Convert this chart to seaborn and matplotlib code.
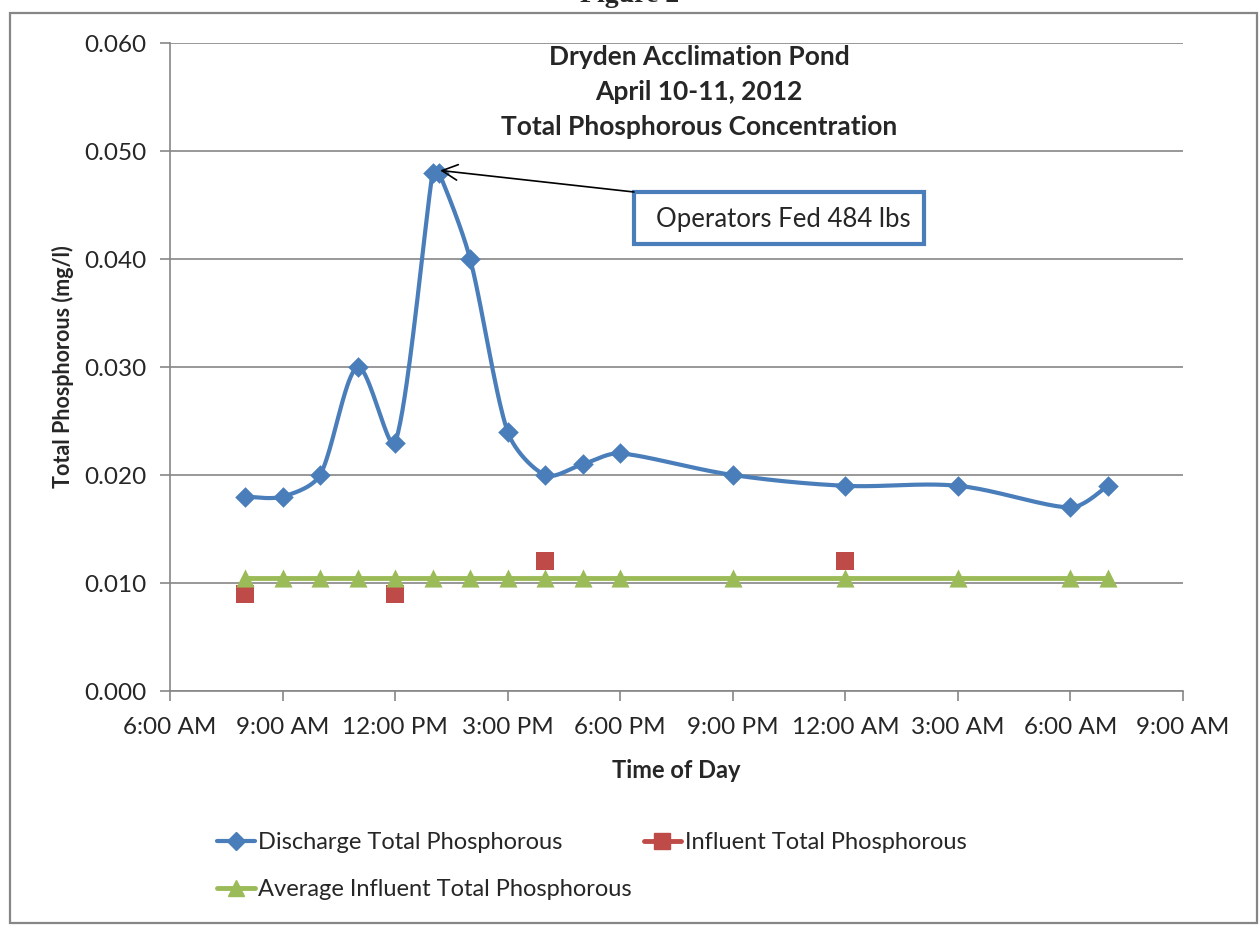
import numpy as np
import pandas as pd
import matplotlib
matplotlib.use("Agg")
import matplotlib.pyplot as plt
import matplotlib.dates as mdates
from matplotlib.lines import Line2D
from matplotlib.patches import Rectangle
import seaborn as sns

#%% data
day0 = pd.Timestamp("2012-04-10")

discharge_hours = [8, 9, 10, 11, 12, 13, 13 + 10/60, 14, 15, 16, 17, 18, 21, 24, 27, 30, 31]
discharge_tp = [0.018, 0.018, 0.020, 0.030, 0.023, 0.048, 0.048, 0.040, 0.024,
                0.020, 0.021, 0.022, 0.020, 0.019, 0.019, 0.017, 0.019]

influent_hours = [8, 12, 16, 24]
influent_tp = [0.009, 0.009, 0.012, 0.012]

avg_hours = [8, 9, 10, 11, 12, 13, 14, 15, 16, 17, 18, 21, 24, 27, 30, 31]
avg_tp = [0.0105] * len(avg_hours)

yticks = [0.000, 0.010, 0.020, 0.030, 0.040, 0.050, 0.060]

blue = "#4A7EBB"
red = "#BE4B48"
green = "#9BBB59"
grid_col = "#868686"


def to_time(hours):
    return [day0 + pd.Timedelta(hours=h) for h in hours]


def excel_smooth(x, y, sx, sy, n=40):
    # bezier smoothing similar to excel's "smoothed line", worked out in pixel units
    P = np.column_stack([np.asarray(x) * sx, np.asarray(y) * sy])
    out = []
    for i in range(len(P) - 1):
        p0 = P[i - 1] if i > 0 else P[i]
        p1, p2 = P[i], P[i + 1]
        p3 = P[i + 2] if i + 2 < len(P) else P[i + 1]
        d01 = np.linalg.norm(p1 - p0)
        d12 = np.linalg.norm(p2 - p1)
        d23 = np.linalg.norm(p3 - p2)
        f1 = min(1/6, d12 / (d01 + d12) / 3) if d01 > 0 else 1/6
        f2 = min(1/6, d12 / (d12 + d23) / 3) if d23 > 0 else 1/6
        c1 = p1 + (p2 - p0) * f1
        c2 = p2 - (p3 - p1) * f2
        t = np.linspace(0, 1, n)[:, None]
        seg = (1 - t) ** 3 * p1 + 3 * (1 - t) ** 2 * t * c1 + 3 * (1 - t) * t ** 2 * c2 + t ** 3 * p2
        out.append(seg if i == 0 else seg[1:])
    out = np.vstack(out)
    return out[:, 0] / sx, out[:, 1] / sy


df_dis = pd.DataFrame({"time": to_time(discharge_hours), "tp": discharge_tp})
df_inf = pd.DataFrame({"time": to_time(influent_hours), "tp": influent_tp})
df_avg = pd.DataFrame({"time": to_time(avg_hours), "tp": avg_tp})

sns.set_style("white")
plt.rcParams["font.family"] = ["Lato", "DejaVu Sans"]

fig = plt.figure(figsize=(12.59, 9.30), dpi=100)
ax = fig.add_axes([170/1259, 1 - 691/930, (1183-170)/1259, (691-43)/930])

# outer chart border
fig.patches.append(Rectangle((10/1259, 1 - 923/930), 1247/1259, 910/930, transform=fig.transFigure,
                             fill=False, edgecolor=grid_col, lw=1.6, zorder=0))
fig.text(0.5, 1.005, "Figure 2", ha="center", va="center", fontsize=20, fontweight="bold",
         family="Liberation Serif")

# smoothed discharge curve
hx, hy = excel_smooth(discharge_hours, discharge_tp, 37.5, 10800)
ax.plot(to_time(hx), hy, color=blue, lw=3, zorder=3)
sns.scatterplot(data=df_dis, x="time", y="tp", marker="D", s=110, color=blue,
                edgecolor=blue, linewidth=0, ax=ax, zorder=4)

# average influent
sns.lineplot(data=df_avg, x="time", y="tp", color=green, lw=3.5, ax=ax, zorder=3)
sns.scatterplot(data=df_avg, x="time", y="tp", marker="^", s=170, color=green,
                edgecolor=green, linewidth=0, ax=ax, zorder=5)

# influent
sns.scatterplot(data=df_inf, x="time", y="tp", marker="s", s=160, color=red,
                edgecolor=red, linewidth=0, ax=ax, zorder=4)

ax.set_xlim(day0 + pd.Timedelta(hours=6), day0 + pd.Timedelta(hours=33))
ax.set_ylim(0, 0.060)
ax.set_yticks(yticks)
ax.yaxis.set_major_formatter(plt.FuncFormatter(lambda v, p: f"{v:.3f}"))
ax.xaxis.set_major_locator(mdates.HourLocator(byhour=[0, 3, 6, 9, 12, 15, 18, 21]))
ax.xaxis.set_major_formatter(mdates.DateFormatter("%-I:%M %p"))

ax.grid(axis="y", color=grid_col, lw=1.2)
ax.set_axisbelow(True)
for s in ["top", "right"]:
    ax.spines[s].set_visible(False)
for s in ["left", "bottom"]:
    ax.spines[s].set_color(grid_col)
    ax.spines[s].set_linewidth(1.2)
ax.tick_params(axis="both", direction="out", length=7, width=1.2, color=grid_col,
               labelsize=17.5, bottom=True, left=True)
ax.tick_params(axis="y", pad=10)
ax.tick_params(axis="x", pad=12)

ax.set_xlabel("Time of Day", fontsize=17, fontweight="bold", labelpad=15)
ax.set_ylabel("Total Phosphorous (mg/l)", fontsize=15.5, fontweight="bold", labelpad=7)

ax.text((699-170)/1013, 0.997, "Dryden Acclimation Pond\nApril 10-11, 2012\nTotal Phosphorous Concentration",
        transform=ax.transAxes, ha="center", va="top", fontsize=19, fontweight="bold",
        linespacing=1.56)

# callout box and arrow
ax.add_patch(Rectangle(((634-170)/1013, (691-244)/648), 290/1013, 52/648, transform=ax.transAxes,
                       fc="white", ec=blue, lw=3, zorder=6))
ax.text((656-170)/1013, (691-219)/648, "Operators Fed 484 lbs", transform=ax.transAxes,
        ha="left", va="center", fontsize=18.5, zorder=7)
ax.annotate("", xy=(day0 + pd.Timedelta(hours=13.2), 0.0482),
            xytext=((634-170)/1013, (691-192)/648), textcoords="axes fraction",
            arrowprops=dict(arrowstyle="->", color="black", lw=1.2, mutation_scale=28,
                            shrinkA=0, shrinkB=0), zorder=6)

handles = [
    Line2D([], [], color=blue, lw=3, marker="D", ms=9, mec=blue),
    Line2D([], [], color=green, lw=3.5, marker="^", ms=12, mec=green),
    Line2D([], [], color=red, lw=3.5, marker="s", ms=11, mec=red),
]
labels = ["Discharge Total Phosphorous", "Average Influent Total Phosphorous",
          "Influent Total Phosphorous"]
fig.legend(handles, labels, ncol=2, loc="upper left", bbox_to_anchor=(205/1259, 1 - 820/930),
           frameon=False, fontsize=17, handlelength=1.6, handletextpad=0.15,
           columnspacing=0.5, labelspacing=1.1, borderpad=0)

fig.savefig("out.png", dpi=100)
